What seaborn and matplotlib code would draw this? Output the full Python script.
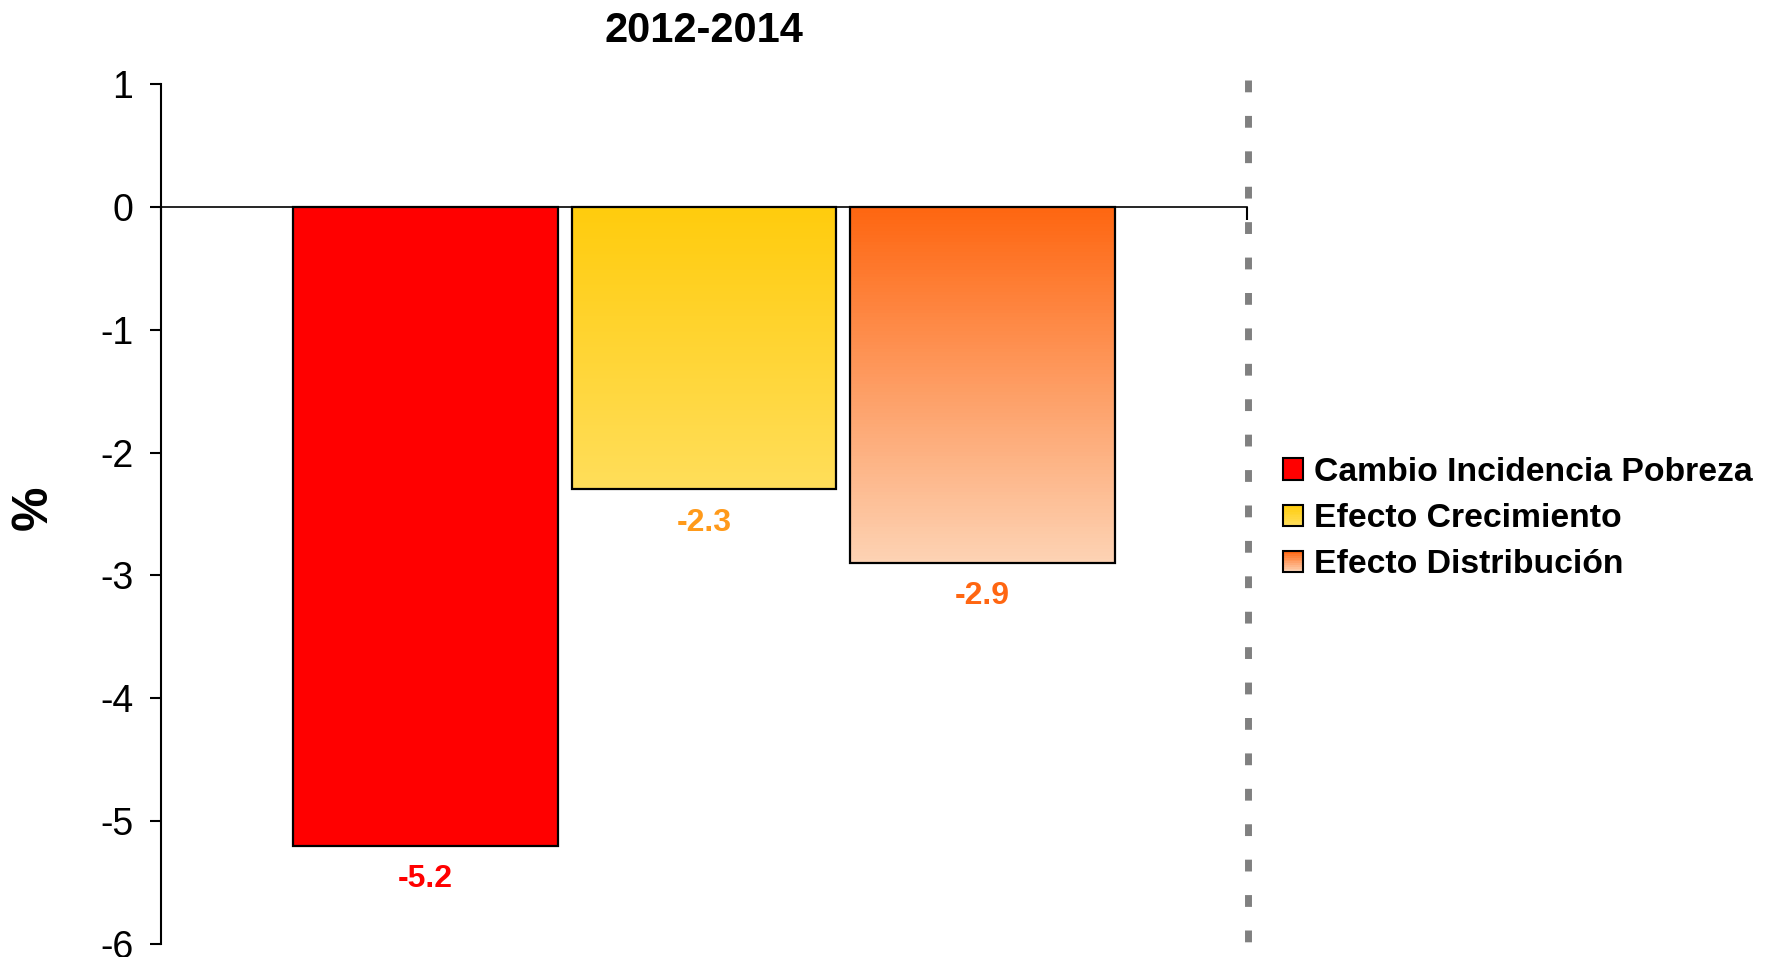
import numpy as np
import matplotlib
matplotlib.use('Agg')
import matplotlib.pyplot as plt
import seaborn as sns
from matplotlib.colors import to_rgb
from matplotlib.patches import Rectangle
from matplotlib.legend_handler import HandlerBase

# data
categorias = ['Cambio Incidencia Pobreza', 'Efecto Crecimiento', 'Efecto Distribución']
valores = [-5.2, -2.3, -2.9]
etiquetas = ['-5.2', '-2.3', '-2.9']
colores_arriba = ['#FF0000', '#FFCC0D', '#FF6611']
colores_abajo = ['#FF0000', '#FFDE5A', '#FDD3B4']
colores_texto = ['#FF0000', '#FF9A1A', '#FF6611']
titulo = '2012-2014'
yticks = [1, 0, -1, -2, -3, -4, -5, -6]


def gradiente(c1, c2, n=100):
    a = np.array(to_rgb(c1))
    b = np.array(to_rgb(c2))
    t = np.linspace(0, 1, n)[:, None]
    return (a + (b - a) * t)[:, None, :]


class HandlerGrad(HandlerBase):
    def __init__(self, c1, c2):
        super().__init__()
        self.c1, self.c2 = c1, c2

    def create_artists(self, legend, orig_handle, xdescent, ydescent, width, height, fontsize, trans):
        arts = []
        n = 12
        cols = gradiente(self.c1, self.c2, n)[:, 0, :]
        for k in range(n):
            r = Rectangle((-xdescent, -ydescent + height * (1 - (k + 1) / n)), width, height / n,
                          facecolor=cols[k], edgecolor='none', transform=trans)
            arts.append(r)
        arts.append(Rectangle((-xdescent, -ydescent), width, height, facecolor='none',
                              edgecolor='black', linewidth=1.5, transform=trans))
        return arts


sns.set_style('white')
plt.rcParams['font.family'] = ['Liberation Sans', 'DejaVu Sans']
plt.rcParams['axes.unicode_minus'] = False
for k in ['text.color', 'axes.labelcolor', 'xtick.color', 'ytick.color']:
    plt.rcParams[k] = 'black'

fig = plt.figure(figsize=(17.67, 9.57), dpi=100)
ax = fig.add_axes([161 / 1767, 13 / 957, 1086 / 1767, 860 / 957])

sns.barplot(x=categorias, y=valores, hue=categorias, palette=colores_arriba, width=0.95,
            edgecolor='black', linewidth=1.6, legend=False, ax=ax, saturation=1)

# gradient fill inside bars
for i, p in enumerate(ax.patches[:len(valores)]):
    x0 = p.get_x()
    w = p.get_width()
    h = p.get_height()
    if colores_arriba[i] != colores_abajo[i]:
        img = ax.imshow(gradiente(colores_arriba[i], colores_abajo[i]), extent=(x0, x0 + w, h, 0),
                        origin='upper', aspect='auto', zorder=p.get_zorder() - 0.1)
        img.set_clip_path(p)
        p.set_facecolor('none')
    ax.annotate(etiquetas[i], (x0 + w / 2, h), xytext=(0, -24), textcoords='offset points',
                ha='center', va='center', fontsize=23, fontweight='bold', color=colores_texto[i])

ax.set_xlim(-0.95, 2.95)
ax.set_ylim(-6, 1)
ax.set_yticks(yticks)
ax.set_yticklabels([str(v) for v in yticks])
ax.tick_params(axis='y', direction='out', length=8, width=1.5, pad=12, labelsize=27, left=True)

ax.spines['top'].set_visible(False)
ax.spines['right'].set_visible(False)
ax.spines['left'].set_linewidth(1.5)
ax.spines['left'].set_color('black')
ax.spines['bottom'].set_position(('data', 0))
ax.spines['bottom'].set_linewidth(1.2)
ax.spines['bottom'].set_color('black')
ax.set_xticks([-0.95, 2.95])
ax.set_xticklabels(['', ''])
ax.tick_params(axis='x', direction='out', length=9, width=1.5, bottom=True)

# grey dotted border of the plot area (drawn top -> bottom)
ax.axvline(2.955, ymin=1.005, ymax=-0.02, color='#808080', lw=5, linestyle=(0, (1.7, 3.4)), clip_on=False)

ax.set_title(titulo, fontsize=30, fontweight='bold', pad=30)
ax.set_xlabel('')
fig.text(34 / 1767, 1 - 508 / 957, '%', rotation=90, ha='center', va='center', fontsize=36, fontweight='bold')

handles = [Rectangle((0, 0), 1, 1) for _ in categorias]
hmap = {h: HandlerGrad(colores_arriba[i], colores_abajo[i]) for i, h in enumerate(handles)}
fig.legend(handles, categorias, handler_map=hmap, loc='center left', bbox_to_anchor=(0.709, 0.458),
           frameon=False, prop={'weight': 'bold', 'size': 24.3}, handlelength=0.6, handleheight=0.6,
           handletextpad=0.3, labelspacing=0.45)

fig.savefig('out.png', dpi=100)
